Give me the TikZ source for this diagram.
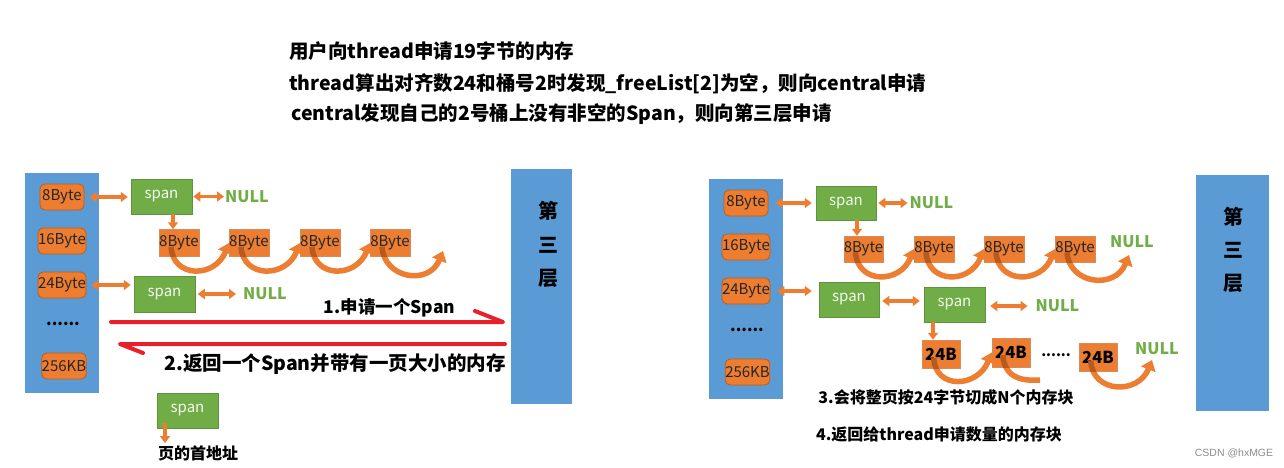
\documentclass[tikz,border=0pt]{standalone}
\usepackage{fontspec}
\setmainfont{Noto Sans CJK SC}
\newfontfamily\wmfont{Liberation Sans}
\usetikzlibrary{arrows.meta,calc}
\definecolor{cblue}{HTML}{5B9BD5}
\definecolor{corange}{HTML}{ED7D31}
\definecolor{cborder}{HTML}{C55A11}
\definecolor{cgreen}{HTML}{70AD47}
\definecolor{cred}{HTML}{E8202A}
\definecolor{cdark}{HTML}{B85A1E}
\tikzset{
 bar/.style={fill=cblue, draw=none, inner sep=0},
 bartxt/.style={font=\bfseries\fontsize{20}{20}\selectfont, inner sep=0},
 sizebox/.style={fill=corange, draw=cborder, line width=0.8pt, rounded corners=5pt, minimum width=44pt, minimum height=26pt, inner sep=0, font=\fontsize{15}{15}\selectfont, text=black!85},
 blk/.style={fill=corange, draw=cborder!70, line width=0.5pt, minimum width=38pt, minimum height=27pt, inner sep=0, font=\fontsize{15}{15}\selectfont, text=black!85},
 bblk/.style={blk, font=\bfseries\fontsize{16.5}{16.5}\selectfont, text=black},
 spanbox/.style={fill=cgreen, draw=cgreen!85!black, line width=0.5pt, minimum width=61pt, minimum height=35pt, inner sep=0, font=\fontsize{15}{15}\selectfont, text=white!92!cgreen},
 nulltxt/.style={text=cgreen, font=\bfseries\fontsize{16}{16}\selectfont, inner sep=0},
 dots/.style={font=\bfseries\fontsize{16}{16}\selectfont, inner sep=0},
 dbl/.style={draw=corange, line width=3.5pt, {Triangle[width=10pt,length=7pt]}-{Triangle[width=10pt,length=7pt]}},
 dnarr/.style={draw=corange, line width=3.5pt, -{Triangle[width=10pt,length=7pt]}},
 curv/.style={draw=corange, line width=5.5pt, -{Triangle[width=15pt,length=10pt]}},
 redl/.style={draw=cred, line width=4pt, line cap=round, line join=round},
 title/.style={anchor=west, font=\bfseries\fontsize{19.5}{19.5}\selectfont, inner sep=0},
 note/.style={font=\bfseries\fontsize{16}{16}\selectfont, inner sep=0},
}
\newcommand\curvlink[2]{%
 \path ($(#1.south west)+(12,-10)$) coordinate (cs);
 \draw[curv] (cs) .. controls +(2,32) and +(-14,35) .. (#2);
 \begin{scope}
 \clip (#1.south west) rectangle (#1.north east);
 \draw[curv,draw=cdark] (cs) .. controls +(2,32) and +(-14,35) .. (#2);
 \end{scope}}
\begin{document}
\begin{tikzpicture}[x=1pt,y=-1pt]
\useasboundingbox[fill=white] (0,0) rectangle (1284,467);

% titles
\node[title] (t1) at (289,51) {用户向thread申请19字节的内存};
\node[title] (t2) at (289,84) {thread算出对齐数24和桶号2时发现\_freeList[2]为空，则向central申请};
\node[title] (t3) at (291,114) {central发现自己的2号桶上没有非空的Span，则向第三层申请};

% ================= left panel =================
\node[bar, minimum width=74pt, minimum height=220pt] (lbar) at (62,283) {};
\node[sizebox] (lb8) at (62,197) {8Byte};
\node[sizebox] (lb16) at (62,241) {16Byte};
\node[sizebox] (lb24) at (62,285) {24Byte};
\node[dots] (ldots) at (63,324) {......};
\node[sizebox] (lb256) at (64,366) {256KB};

\node[bar, minimum width=61pt, minimum height=235pt] (lthird) at (541.5,286.5) {};
\node[bartxt] (lt1) at (548,211) {第};
\node[bartxt] (lt2) at (548,245) {三};
\node[bartxt] (lt3) at (548,278) {层};

\node[spanbox] (lspan1) at (161.5,196.5) {span};
\node[nulltxt] (lnull1) at (247,197) {NULL};
\draw[dbl, shorten <=5pt, shorten >=3pt] (lb8.east) -- (lb8.east -| lspan1.west);
\draw[dbl, shorten <=1pt, shorten >=1pt] (lspan1.east) -- (lspan1.east -| lnull1.west);

\node[blk] (lk1) at (179,243) {8Byte};
\node[blk] (lk2) at (249,243) {8Byte};
\node[blk] (lk3) at (320,243) {8Byte};
\node[blk] (lk4) at (390,243) {8Byte};
\coordinate (lkend) at (443,251);
\draw[dnarr] ([xshift=11.5pt]lspan1.south) -- ([xshift=11.5pt]lspan1.south |- lk1.north);
\curvlink{lk1}{lk2.west}
\curvlink{lk2}{lk3.west}
\curvlink{lk3}{lk4.west}
\curvlink{lk4}{lkend}

\node[spanbox, minimum height=36pt] (lspan2) at (164.5,294) {span};
\node[nulltxt] (lnull2) at (265,294) {NULL};
\draw[dbl, shorten <=5pt, shorten >=3pt] (lb24.east) -- (lb24.east -| lspan2.west);
\draw[dbl, shorten <=2.5pt, shorten >=7pt] (lspan2.east) -- (lspan2.east -| lnull2.west);

% red arrows
\coordinate (r1s) at (111,322);
\coordinate (r1e) at (503,322);
\draw[redl] (r1s) -- (r1e) -- ++(-28,-11);
\node[font=\bfseries\fontsize{17.5}{17.5}\selectfont, inner sep=0] (lab1) at (389.5,308) {1.申请一个Span};
\coordinate (r2s) at (505,344);
\coordinate (r2e) at (120,344);
\draw[redl] (r2s) -- (r2e) -- ++(23,9);
\node[font=\bfseries\fontsize{19.5}{19.5}\selectfont, inner sep=0] (lab2) at (335,364) {2.返回一个Span并带有一页大小的内存};

\node[spanbox] (lspan3) at (187.5,410.5) {span};
\coordinate (paddr) at (165,443);
\draw[dnarr] (lspan3.south -| paddr) ++(0,-5) -- (paddr);
\node[note] (ltxt) at (198,453) {页的首地址};

% ================= right panel =================
\node[bar, minimum width=74pt, minimum height=220pt] (rbar) at (746,289) {};
\node[sizebox] (rb8) at (746,203) {8Byte};
\node[sizebox] (rb16) at (746,247) {16Byte};
\node[sizebox] (rb24) at (746,291) {24Byte};
\node[dots] (rdots) at (747,330) {......};
\node[sizebox, minimum width=43pt] (rb256) at (747.5,372) {256KB};

\node[bar, minimum width=73pt, minimum height=236pt] (rthird) at (1232.5,293) {};
\node[bartxt] (rt1) at (1233,217) {第};
\node[bartxt] (rt2) at (1233,250) {三};
\node[bartxt] (rt3) at (1233,283) {层};

\node[spanbox, minimum width=60pt, minimum height=34pt] (rspanA) at (846,203) {span};
\node[nulltxt] (rnullA) at (931.5,203) {NULL};
\draw[dbl, shorten <=7pt, shorten >=4pt] (rb8.east) -- (rb8.east -| rspanA.west);
\draw[dbl, shorten <=2pt, shorten >=2pt] (rspanA.east) -- (rspanA.east -| rnullA.west);

\node[blk, minimum height=26pt] (rk1) at (863.5,249) {8Byte};
\node[blk, minimum height=26pt] (rk2) at (934,249) {8Byte};
\node[blk, minimum height=26pt] (rk3) at (1004,249) {8Byte};
\node[blk, minimum height=26pt] (rk4) at (1075,249) {8Byte};
\node[nulltxt] (rnullK) at (1132,242) {NULL};
\coordinate (rkend) at (1129,255);
\draw[dnarr] ([xshift=11pt]rspanA.south) -- ([xshift=11pt]rspanA.south |- rk1.north);
\curvlink{rk1}{rk2.west}
\curvlink{rk2}{rk3.west}
\curvlink{rk3}{rk4.west}
\curvlink{rk4}{rkend}

\node[spanbox, minimum width=60pt] (rspanB) at (849,299.5) {span};
\node[spanbox] (rspanC) at (954.5,304.5) {span};
\node[nulltxt] (rnullC) at (1057.5,306) {NULL};
\draw[dbl, shorten <=7pt, shorten >=7pt] (rb24.east) -- (rb24.east -| rspanB.west);
\draw[dbl, shorten <=3pt, shorten >=4pt] ([yshift=-1.5pt]rspanB.east) -- ([yshift=-1.5pt]rspanB.east -| rspanC.west);
\draw[dbl, shorten <=5pt, shorten >=8pt] ([yshift=-1.5pt]rspanC.east) -- ([yshift=-1.5pt]rspanC.east -| rnullC.west);

\node[bblk, minimum height=28pt] (rc1) at (941,354) {24B};
\node[bblk, minimum height=29pt] (rc2) at (1011,352.5) {24B};
\node[dots, font=\bfseries\fontsize{14}{14}\selectfont] (rcdots) at (1056,355) {......};
\node[bblk, minimum height=28pt] (rc3) at (1098,357) {24B};
\node[nulltxt] (rnullD) at (1157,349) {NULL};
\draw[dnarr] ([xshift=-21.5pt]rspanC.south) -- ([xshift=-21.5pt]rspanC.south |- rc1.north);
\curvlink{rc1}{rc2.west}
\coordinate (rcstub) at (1040,380);
\path ($(rc2.south west)+(11,-12)$) coordinate (cs2);
\draw[draw=corange, line width=5.5pt] (cs2) .. controls +(2,24) and +(-16,1) .. (rcstub);
\begin{scope}
 \clip (rc2.south west) rectangle (rc2.north east);
 \draw[draw=cdark, line width=5.5pt] (cs2) .. controls +(2,24) and +(-16,1) .. (rcstub);
\end{scope}
\coordinate (rcend) at (1152,360);
\curvlink{rc3}{rcend}

\node[note] (n3) at (946,397) {3.会将整页按24字节切成N个内存块};
\node[note] (n4) at (939,434) {4.返回给thread申请数量的内存块};

\node[font=\wmfont\fontsize{10.5}{10.5}\selectfont, text=black!45, inner sep=0] (wm) at (1234,453) {CSDN @hxMGE};
\end{tikzpicture}
\end{document}
